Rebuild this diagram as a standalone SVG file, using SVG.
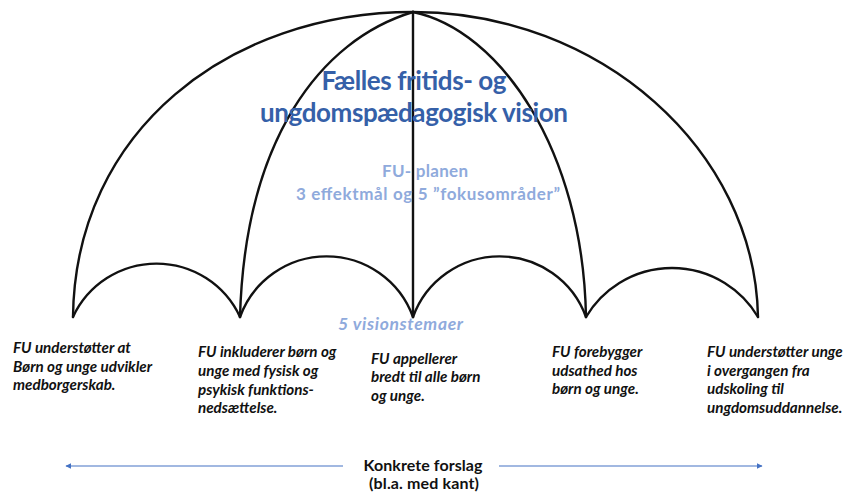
<svg xmlns="http://www.w3.org/2000/svg" width="846" height="492" viewBox="0 0 846 492">
<defs>
<style>
.rib{fill:none;stroke:#111;stroke-width:2.4;stroke-linecap:round}
.title{font-family:Lato,"Open Sans","Liberation Sans",sans-serif;font-weight:bold;font-size:26px;fill:#3560A8;text-anchor:middle}
.sub{font-family:Lato,"Open Sans","Liberation Sans",sans-serif;font-weight:bold;font-size:17px;fill:#8FAADC;text-anchor:middle}
.vis{font-family:Lato,"Open Sans","Liberation Sans",sans-serif;font-style:italic;font-weight:bold;font-size:17.5px;fill:#8FAADC}
.item{font-family:Lato,"Open Sans","Liberation Sans",sans-serif;font-style:italic;font-weight:bold;font-size:15.2px;fill:#111}
.bot{font-family:Lato,"Open Sans","Liberation Sans",sans-serif;font-weight:bold;font-size:16px;fill:#111;text-anchor:middle}
.arr{stroke:#4472C4;stroke-width:1.2;fill:none}
</style>
<marker id="ah" viewBox="0 0 10 10" refX="9" refY="5" markerWidth="6" markerHeight="6" orient="auto-start-reverse" markerUnits="userSpaceOnUse">
<path d="M0,0 L10,5 L0,10 z" fill="#4472C4"/>
</marker>
</defs>
<rect width="846" height="492" fill="#fff"/>
<g id="umbrella">
<path class="rib" d="M73,317 C75,130 230,12 413,12"/>
<path class="rib" d="M413,12 C600,12 755,150 758,317"/>
<path class="rib" d="M240,317 C245,140 320,40 413,12"/>
<path class="rib" d="M413,12 C500,30 583,150 586,317"/>
<path class="rib" d="M413,12 L413,317"/>
<path class="rib" d="M73,317 A92 92 0 0 1 240,317"/>
<path class="rib" d="M240,317 A92 92 0 0 1 413,317"/>
<path class="rib" d="M413,317 A92 92 0 0 1 586,317"/>
<path class="rib" d="M586,317 A100 100 0 0 1 758,317"/>
</g>
<g id="title">
<text class="title" x="414" y="90" textLength="185">Fælles fritids- og</text>
<text class="title" x="414" y="122" textLength="308">ungdomspædagogisk vision</text>
</g>
<g id="fu-planen">
<text class="sub" x="425" y="177" textLength="86">FU- planen</text>
<text class="sub" x="428" y="200" textLength="264">3 effektmål og 5 ”fokusområder”</text>
</g>
<g id="visionstemaer">
<text class="vis" x="338" y="330" textLength="125">5 visionstemaer</text>
</g>
<g id="tema1">
<text class="item" x="13" y="353">FU understøtter at</text>
<text class="item" x="13" y="372">Børn og unge udvikler</text>
<text class="item" x="13" y="390">medborgerskab.</text>
</g>
<g id="tema2">
<text class="item" x="198" y="357">FU inkluderer børn og</text>
<text class="item" x="198" y="376">unge med fysisk og</text>
<text class="item" x="198" y="395">psykisk funktions-</text>
<text class="item" x="198" y="413">nedsættelse.</text>
</g>
<g id="tema3">
<text class="item" x="371" y="364">FU appellerer</text>
<text class="item" x="371" y="382">bredt til alle børn</text>
<text class="item" x="371" y="401">og unge.</text>
</g>
<g id="tema4">
<text class="item" x="552" y="357">FU forebygger</text>
<text class="item" x="552" y="376">udsathed hos</text>
<text class="item" x="552" y="394">børn og unge.</text>
</g>
<g id="tema5">
<text class="item" x="707" y="357">FU understøtter unge</text>
<text class="item" x="707" y="376">i overgangen fra</text>
<text class="item" x="707" y="394">udskoling til</text>
<text class="item" x="707" y="413">ungdomsuddannelse.</text>
</g>
<g id="connectors">
<line class="arr" x1="343" y1="466" x2="66" y2="466" marker-end="url(#ah)"/>
<line class="arr" x1="499" y1="466" x2="762" y2="466" marker-end="url(#ah)"/>
</g>
<g id="konkrete">
<text class="bot" x="423" y="471" textLength="119">Konkrete forslag</text>
<text class="bot" x="424" y="489" textLength="110">(bl.a. med kant)</text>
</g>
</svg>
